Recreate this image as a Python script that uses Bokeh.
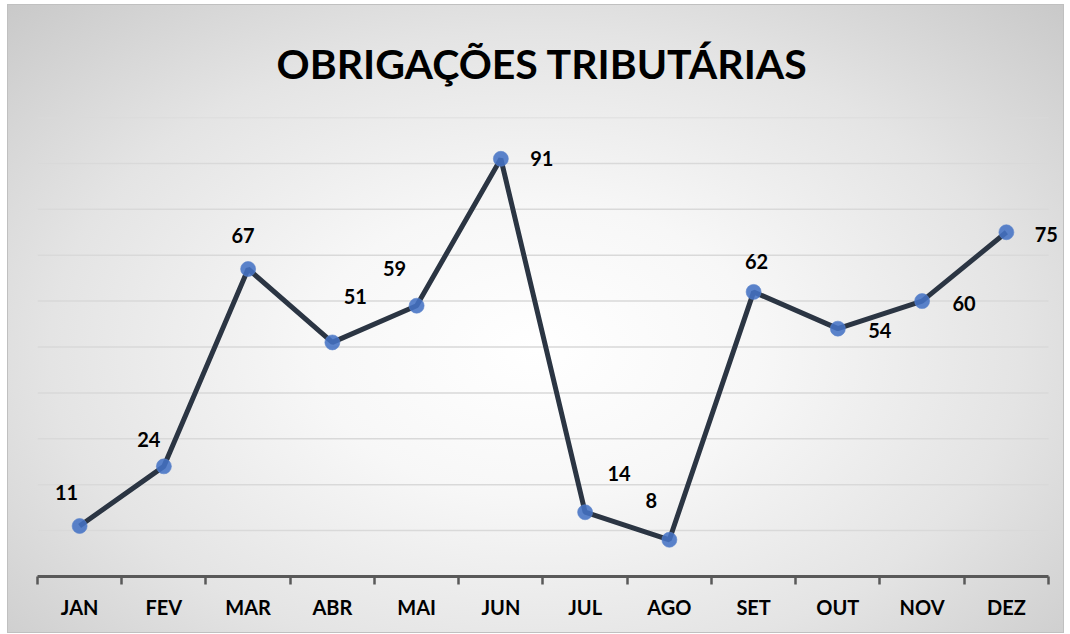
from bokeh.plotting import figure
from bokeh.models import FixedTicker, ColumnDataSource, Range1d
from bokeh.core.properties import value
from bokeh.embed import file_html
from bokeh.resources import INLINE

months = ["JAN", "FEV", "MAR", "ABR", "MAI", "JUN", "JUL", "AGO", "SET", "OUT", "NOV", "DEZ"]
values = [11, 24, 67, 51, 59, 91, 14, 8, 62, 54, 60, 75]
grid_ticks = [10, 20, 30, 40, 50, 60, 70, 80, 90, 100]

# label placement (screen pixels), styling only
label_dx = [-13, -15, -5, 23, -22, 41, 34, -18, 3, 42, 42, 40]
label_dy = [-34, -27, -33, -46, -37, 0, -39, -39, -30, 2, 2, 2]

FONT = "Lato"

n = len(months)
xs = [i + 0.5 for i in range(n)]
src = ColumnDataSource(dict(x=xs, y=values, lab=[str(v) for v in values],
                            dx=label_dx, dy=label_dy))

p = figure(width=1057, height=629, output_backend="svg", toolbar_location=None,
           x_range=Range1d(0, n * 1024 / 1010), y_range=Range1d(0, 100),
           min_border_left=29, min_border_right=3, min_border_bottom=58,
           min_border_top=112)

p.background_fill_color = None
p.border_fill_color = None
p.outline_line_color = None
p.styles = {"background": "radial-gradient(ellipse at 50% 55%, #ffffff 0%, #f7f7f7 30%, #e4e4e4 65%, #c9c9c9 100%)",
            "border": "1px solid #c0c0c0",
            "margin": "4px 0 0 7px"}

p.title.text = "OBRIGAÇÕES TRIBUTÁRIAS"
p.title.align = "left"
p.title.offset = 239
p.title.text_font = FONT
p.title.text_font_style = "bold"
p.title.text_font_size = "41px"
p.title.text_color = "#000000"
p.title.standoff = 59

p.yaxis.visible = False
p.xgrid.visible = False
p.ygrid.visible = False

# horizontal gridlines across the category span
p.segment(x0=[0] * len(grid_ticks), x1=[n] * len(grid_ticks), y0=grid_ticks, y1=grid_ticks,
          line_color="#d9d9d9", line_width=1.5)

ax = p.xaxis[0]
ax.bounds = (0, n)
ax.ticker = FixedTicker(ticks=xs, minor_ticks=list(range(n + 1)))
ax.major_label_overrides = {x: m for x, m in zip(xs, months)}
ax.major_tick_line_color = None
ax.minor_tick_line_color = "#595959"
ax.minor_tick_line_width = 2.5
ax.minor_tick_out = 8
ax.minor_tick_in = 0
ax.axis_line_color = "#595959"
ax.axis_line_width = 3
ax.major_label_text_font = FONT
ax.major_label_text_font_style = "bold"
ax.major_label_text_font_size = "20px"
ax.major_label_text_color = "#000000"
ax.major_label_standoff = 10

p.line("x", "y", source=src, line_color="#2B3543", line_width=5)
p.scatter("x", "y", source=src, size=15, fill_color="#4472C4", fill_alpha=0.88,
          line_color="#5B84CC", line_alpha=0.6)
p.text("x", "y", text="lab", source=src, x_offset="dx", y_offset="dy",
       text_align="center", text_baseline="middle", text_font=value(FONT),
       text_font_style="bold", text_font_size="20px", text_color="#000000")

open("out.html", "w").write(file_html(p, INLINE))
